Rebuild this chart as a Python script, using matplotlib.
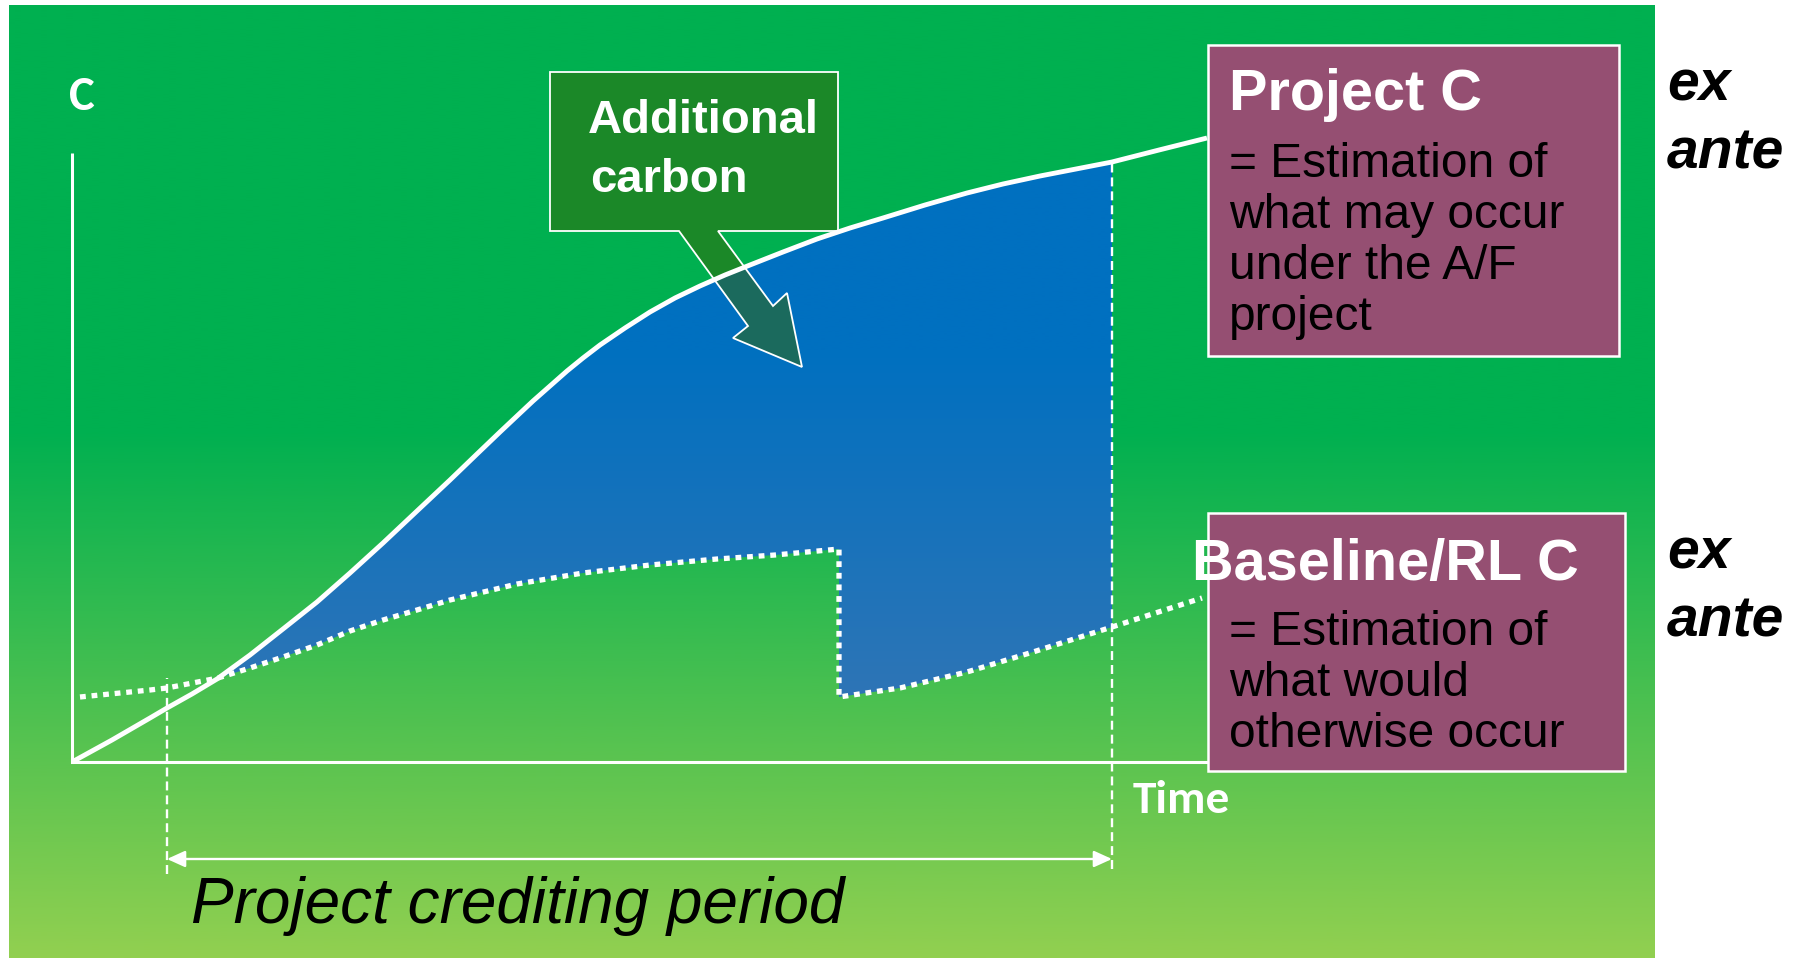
import numpy as np
import matplotlib
matplotlib.use('Agg')
import matplotlib.pyplot as plt
from matplotlib.patches import Polygon, Rectangle
from matplotlib import font_manager as fm
from matplotlib.colors import to_rgb

# ---- data: carbon stock (C) against time, arbitrary units ----
project_t = [0, 4, 7.8, 9.5, 12, 14.5, 17.8, 21.1, 24.5, 27.8, 31.1, 34.5, 37.8,
             40.5, 42.8, 44.5, 46.1, 47.8, 49.5, 51.1, 52.8, 55.3, 57.8, 60.3,
             62.8, 65.3, 67.8, 71.1, 74.5, 77.8, 81.1, 85.3, 89.5, 93.1, 96.8,
             100.4, 104.0, 108.7, 113.5]
project_c = [0, 2.2, 4.4, 5.4, 6.8, 8.3, 10.7, 13.3, 16.0, 18.9, 21.9, 25.1, 28.2,
             30.8, 33.0, 34.6, 36.1, 37.6, 39.1, 40.4, 41.7, 43.4, 45.0, 46.4,
             47.6, 48.7, 49.7, 51.0, 52.3, 53.4, 54.4, 55.7, 56.9, 57.8, 58.6,
             59.3, 60.0, 61.2, 62.4]

baseline_t = [0.8, 7.8, 9.5, 14.6, 17.8, 21.1, 24.5, 27.8, 31.1, 34.5, 37.8, 44.5,
              51.1, 57.8, 64.5, 70.3, 76.7, 76.7, 82.8, 89.5, 96.1, 104.0, 113.0]
baseline_c = [6.5, 7.2, 7.4, 8.4, 9.4, 10.5, 11.7, 13.1, 14.2, 15.2, 16.2, 17.8,
              18.9, 19.7, 20.3, 20.7, 21.3, 6.5, 7.4, 9.0, 11.0, 13.5, 16.4]

crediting_start = 9.5
crediting_end = 104.0
additional_start = 14.5   # where the project curve rises above the baseline

callout_lines = ['Additional', 'carbon']
project_title = 'Project C'
project_lines = ['= Estimation of', 'what may occur', 'under the A/F', 'project']
baseline_title = 'Baseline/RL C'
baseline_lines = ['= Estimation of', 'what would', 'otherwise occur']
qualifier = ['ex', 'ante']
y_label = 'C'
x_label = 'Time'
period_label = 'Project crediting period'

# ---- fonts ----
available = {f.name for f in fm.fontManager.ttflist}
arial = 'Liberation Sans' if 'Liberation Sans' in available else 'DejaVu Sans'
if 'Carlito' in available:
    axis_font, c_size, time_size = 'Carlito', 35, 34
else:
    axis_font, c_size, time_size = 'Open Sans', 32, 31

# ---- figure ----
W, H, DPI = 1798, 958, 100
fig = plt.figure(figsize=(W / DPI, H / DPI), dpi=DPI, facecolor='white')
ax = fig.add_axes([0, 0, 1, 1])
ax.axis('off')
XLIM, YLIM = (-7.2, 172.6), (-19.6, 76.2)

# slide background: green fading to light green in the lower half
bg_l, bg_r, bg_b, bg_t = -6.3, 158.3, -19.6, 75.7
fade_top = 33.2
cv = np.linspace(bg_t, bg_b, 600)
f = np.clip((fade_top - cv) / (fade_top - bg_b), 0, 1)[:, None]
top_col, bot_col = np.array(to_rgb('#00B050')), np.array(to_rgb('#92D050'))
bg = top_col * (1 - f) + bot_col * f
ax.imshow(bg[:, None, :], extent=[bg_l, bg_r, bg_b, bg_t], origin='upper',
          aspect='auto', interpolation='bilinear', zorder=0)

# additional carbon: area between project and baseline curves
upper = [(t, c) for t, c in zip(project_t, project_c)
         if additional_start <= t <= crediting_end]
lower = [(t, c) for t, c in zip(baseline_t, baseline_c)
         if additional_start <= t <= crediting_end][::-1]
area = Polygon(upper + lower, closed=True, facecolor='none', edgecolor='none',
               transform=ax.transData)
ax.add_patch(area)
c_hi, c_lo = max(c for _, c in upper), min(c for _, c in lower)
bv = np.linspace(c_hi, c_lo, 400)
fb = np.clip((41.2 - bv) / (41.2 - c_lo), 0, 1)[:, None]
blue = np.array(to_rgb('#0070C0')) * (1 - fb) + np.array(to_rgb('#2E75B6')) * fb
im = ax.imshow(blue[:, None, :], extent=[additional_start, crediting_end, c_lo, c_hi],
               origin='upper', aspect='auto', interpolation='bilinear', zorder=1)
im.set_clip_path(area)

# axes drawn as white lines
ax.plot([0, 0, 113.6], [60.9, 0, 0], color='white', lw=2.2,
        solid_joinstyle='miter', solid_capstyle='butt', zorder=2)

# crediting period guides
dash = (0, (3.8, 2.1))
ax.plot([crediting_start] * 2, [-11.2, 8.4], color='white', lw=1.7, linestyle=dash, zorder=2)
ax.plot([crediting_end] * 2, [-10.7, np.interp(crediting_end, project_t, project_c)],
        color='white', lw=1.7, linestyle=dash, zorder=2)
ax.annotate('', xy=(crediting_end, -9.7), xytext=(crediting_start, -9.7),
            arrowprops=dict(arrowstyle='<|-|>,head_length=11,head_width=5',
                            mutation_scale=1, color='white', lw=1.7,
                            shrinkA=0, shrinkB=0), zorder=2)

# baseline (dotted) curve
ax.plot(baseline_t, baseline_c, color='white', lw=3.8, linestyle=(0, (1.1, 1.1)),
        dash_capstyle='butt', zorder=3)

# callout for the additional carbon
callout = [(47.8, 69.0), (76.6, 69.0), (76.6, 53.1), (64.6, 53.1), (70.1, 45.6),
           (71.5, 46.9), (73.0, 39.5), (66.1, 42.4), (67.6, 43.6), (60.7, 53.1),
           (47.8, 53.1)]
ax.add_patch(Polygon(callout, closed=True, facecolor=(0.204, 0.4, 0.024, 0.53),
                     edgecolor='white', lw=1.3, zorder=4))
for txt, (x, y) in zip(callout_lines, [(51.6, 62.9), (51.8, 57.0)]):
    ax.text(x, y, txt, color='white', fontsize=34, fontweight='bold', family=arial,
            ha='left', va='baseline', zorder=7)

# project (solid) curve
ax.plot(project_t, project_c, color='white', lw=3.5, solid_joinstyle='round',
        solid_capstyle='butt', zorder=5)

# description boxes
box_col = '#954F72'
ax.add_patch(Rectangle((113.6, 40.6), 41.1, 31.1, facecolor=box_col,
                       edgecolor='white', lw=1.8, zorder=6))
ax.add_patch(Rectangle((113.6, -0.9), 41.7, 25.8, facecolor=box_col,
                       edgecolor='white', lw=1.8, zorder=6))

ax.text(115.7, 65.2, project_title, color='white', fontsize=41.5, fontweight='bold',
        family=arial, ha='left', va='baseline', zorder=7)
for i, line in enumerate(project_lines):
    ax.text(115.7, 58.5 - 5.1 * i, line, color='black', fontsize=34.5, family=arial,
            ha='left', va='baseline', zorder=7)

ax.text(112.0, 18.2, baseline_title, color='white', fontsize=41.5, fontweight='bold',
        family=arial, ha='left', va='baseline', zorder=7)
for i, line in enumerate(baseline_lines):
    ax.text(115.7, 11.7 - 5.1 * i, line, color='black', fontsize=34.5, family=arial,
            ha='left', va='baseline', zorder=7)

for top in (66.2, 19.4):
    for j, word in enumerate(qualifier):
        ax.text(159.5, top - 6.85 * j, word, color='black', fontsize=41,
                fontweight='bold', fontstyle='italic', family=arial,
                ha='left', va='baseline', zorder=7)

# axis labels
ax.text(-0.3, 65.2, y_label, color='white', fontsize=c_size, fontweight='bold',
        family=axis_font, ha='left', va='baseline', zorder=7)
ax.text(106.1, -5.1, x_label, color='white', fontsize=time_size, fontweight='bold',
        family=axis_font, ha='left', va='baseline', zorder=7)
ax.text(11.9, -16.1, period_label, color='black', fontsize=46, fontstyle='italic',
        family=arial, ha='left', va='baseline', zorder=7)

ax.set_xlim(*XLIM)
ax.set_ylim(*YLIM)
fig.savefig('out.png', dpi=DPI, facecolor='white')
